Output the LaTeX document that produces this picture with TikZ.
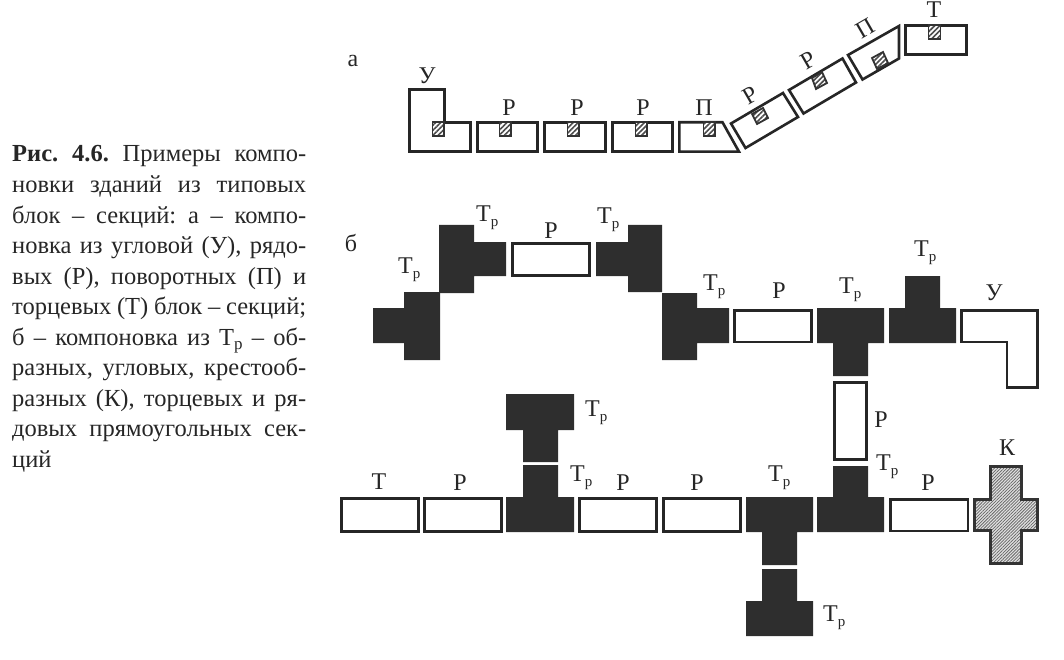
\documentclass[tikz,border=0pt]{standalone}
\usepackage{fontspec}
\setmainfont{Liberation Serif}
\usetikzlibrary{patterns.meta}
\tikzset{x=1pt,y=-1pt,
 wblock/.style={draw=black!85,line width=2.6pt,fill=white,line join=miter},
 dblock/.style={draw=none,fill=black!82},
 hatchsq/.style={draw=black!80,line width=1.8pt,preaction={fill=white},pattern={Lines[angle=45,distance=3.6pt,line width=1.6pt]},pattern color=black!70},
 crossb/.style={draw=black!80,line width=2.8pt,preaction={fill=black!12},pattern={Lines[angle=45,distance=2.2pt,line width=.75pt]},pattern color=black!60},
 lab/.style={inner sep=0pt,font=\fontsize{24}{24}\selectfont,text=black!85},
 sublab/.style={inner sep=0pt,anchor=base west,font=\fontsize{24}{24}\selectfont,text=black!85},
 captext/.style={inner sep=0pt,anchor=base west,font=\fontsize{24.5}{24.5}\selectfont,text=black!85}}
\newcommand{\Tp}{Т\raisebox{-5pt}{\fontsize{15}{15}\selectfont р}}
\newcommand{\jl}[1]{\hbox to 294pt{\frenchspacing\spaceskip=.18em plus 1fil\relax #1}}
\begin{document}
\begin{tikzpicture}
\useasboundingbox (0,0) rectangle (1064,660);
% a
\draw[wblock] (409.3,89.3)--(444.7,89.3)--(444.7,122.3)--(470.7,122.3)--(470.7,151.7)--(409.3,151.7)--cycle;
\draw[wblock] (477.3,122.3) rectangle (537.7,151.7);
\draw[wblock] (544.3,122.3) rectangle (605.7,151.7);
\draw[wblock] (612.3,122.3) rectangle (672.7,151.7);
\draw[wblock] (679.3,122.3)--(722.5,122.3)--(739,151.7)--(679.3,151.7)--cycle;
\draw[wblock] (731,123.5)--(783,93)--(798,117)--(745.5,148)--cycle;
\draw[wblock] (789,90)--(842.5,58.5)--(856,82.5)--(803.5,113.5)--cycle;
\draw[wblock] (848,55)--(899,26)--(899,58.5)--(862.5,79.5)--cycle;
\draw[wblock] (905.3,25.3) rectangle (966.7,54.7);
\draw[hatchsq] (432.5,122) rectangle (444,136);
\draw[hatchsq] (499.5,122) rectangle (511,136);
\draw[hatchsq] (567.5,122) rectangle (579,136);
\draw[hatchsq] (635.5,122) rectangle (647,136);
\draw[hatchsq] (703.5,122) rectangle (715,136);
\draw[hatchsq] (752,114)--(763,108)--(768,118)--(757,124)--cycle;
\draw[hatchsq] (812,78)--(822,72)--(827,83)--(816,89)--cycle;
\draw[hatchsq] (872,58)--(883,52)--(888,63)--(877,69)--cycle;
\draw[hatchsq] (928.5,25) rectangle (940.5,39);
\node[lab] (la) at (353,61) {а};
\node[lab] (lu) at (427,76) {У};
\node[lab] (lp1) at (509,108) {Р};
\node[lab] (lp2) at (577,108) {Р};
\node[lab] (lp3) at (643,108) {Р};
\node[lab] (lpi1) at (704,108) {П};
\node[lab,rotate=30] (lp4) at (750,95) {Р};
\node[lab,rotate=30] (lp5) at (808,60) {Р};
\node[lab,rotate=30] (lpi2) at (865,28) {П};
\node[lab] (lt) at (934,10) {Т};
% b top
\fill[dblock] (373,308)--(404,308)--(404,292)--(440,292)--(440,360)--(404,360)--(404,343)--(373,343)--cycle;
\fill[dblock] (439,225)--(474,225)--(474,242)--(506,242)--(506,276)--(474,276)--(474,293)--(439,293)--cycle;
\draw[wblock] (512.3,243.3) rectangle (589.7,275.7);
\fill[dblock] (596,242)--(628,242)--(628,225)--(662,225)--(662,292)--(628,292)--(628,276)--(596,276)--cycle;
\fill[dblock] (662,293)--(697,293)--(697,308)--(729,308)--(729,343)--(697,343)--(697,360)--(662,360)--cycle;
\draw[wblock] (734.3,310.3) rectangle (811.7,342);
\fill[dblock] (817,308)--(884,308)--(884,343)--(868,343)--(868,376)--(833,376)--(833,343)--(817,343)--cycle;
\fill[dblock] (905,276)--(940,276)--(940,308)--(956,308)--(956,343)--(889,343)--(889,308)--(905,308)--cycle;
\draw[wblock] (961.3,310.3)--(1037.7,310.3)--(1037.7,387.7)--(1007,387.7)--(1007,342)--(961.3,342)--cycle;
\draw[wblock] (834.3,382.3) rectangle (866.7,459.7);
% b bottom
\fill[dblock] (506,394)--(574,394)--(574,430)--(558,430)--(558,462)--(523,462)--(523,430)--(506,430)--cycle;
\fill[dblock] (523,465)--(558,465)--(558,497)--(574,497)--(574,532)--(506,532)--(506,497)--(523,497)--cycle;
\draw[wblock] (341.3,498.3) rectangle (418.7,531.7);
\draw[wblock] (424.3,498.3) rectangle (501.7,531.7);
\draw[wblock] (579.3,498.3) rectangle (656.7,531.7);
\draw[wblock] (663.3,498.3) rectangle (740.7,531.7);
\fill[dblock] (746,497)--(813,497)--(813,532)--(797,532)--(797,565)--(762,565)--(762,532)--(746,532)--cycle;
\fill[dblock] (762,569)--(797,569)--(797,601)--(813,601)--(813,636)--(746,636)--(746,601)--(762,601)--cycle;
\fill[dblock] (833,466)--(868,466)--(868,497)--(884,497)--(884,532)--(817,532)--(817,497)--(833,497)--cycle;
\draw[wblock] (890.3,499.3) rectangle (968,531);
\draw[crossb] (990.4,466.4)--(1021.6,466.4)--(1021.6,499.4)--(1037.6,499.4)--(1037.6,530.6)--(1021.6,530.6)--(1021.6,563.6)--(990.4,563.6)--(990.4,530.6)--(974.4,530.6)--(974.4,499.4)--(990.4,499.4)--cycle;
% labels b
\node[lab] (lb) at (351,243) {б};
\node[sublab] (t1) at (398,273) {\Tp};
\node[sublab] (t2) at (476,222) {\Tp};
\node[lab] (p1) at (551,231) {Р};
\node[sublab] (t3) at (597,224) {\Tp};
\node[sublab] (t4) at (703,290) {\Tp};
\node[lab] (p2) at (779,291) {Р};
\node[sublab] (t5) at (839,293) {\Tp};
\node[sublab] (t6) at (914,256) {\Tp};
\node[lab] (u2) at (994,293) {У};
\node[lab] (p3) at (881,420) {Р};
\node[sublab] (t7) at (876,470) {\Tp};
\node[lab] (kk) at (1007,448) {К};
\node[sublab] (t8) at (585,416) {\Tp};
\node[sublab] (t9) at (570,481) {\Tp};
\node[lab] (pt) at (379,482) {Т};
\node[lab] (p4) at (460,483) {Р};
\node[lab] (p5) at (623,483) {Р};
\node[lab] (p6) at (697,483) {Р};
\node[sublab] (t10) at (768,481) {\Tp};
\node[lab] (p7) at (928,483) {Р};
\node[sublab] (t11) at (823,621) {\Tp};
% caption
\node[captext] (c1) at (12,162) {\jl{\textbf{Рис. 4.6.} Примеры компо-}};
\node[captext] (c2) at (12,193) {\jl{новки зданий из типовых}};
\node[captext] (c3) at (12,223) {\jl{блок – секций: а – компо-}};
\node[captext] (c4) at (12,253) {\jl{новка из угловой (У), рядо-}};
\node[captext] (c5) at (12,284) {\jl{вых (Р), поворотных (П) и}};
\node[captext] (c6) at (12,314) {\jl{торцевых (Т) блок – секций;}};
\node[captext] (c7) at (12,345) {\jl{б – компоновка из Т\raisebox{-4pt}{\fontsize{17}{17}\selectfont р} – об-}};
\node[captext] (c8) at (12,375) {\jl{разных, угловых, крестооб-}};
\node[captext] (c9) at (12,406) {\jl{разных (К), торцевых и ря-}};
\node[captext] (c10) at (12,436) {\jl{довых прямоугольных сек-}};
\node[captext] (c11) at (12,467) {ций};
\end{tikzpicture}
\end{document}
